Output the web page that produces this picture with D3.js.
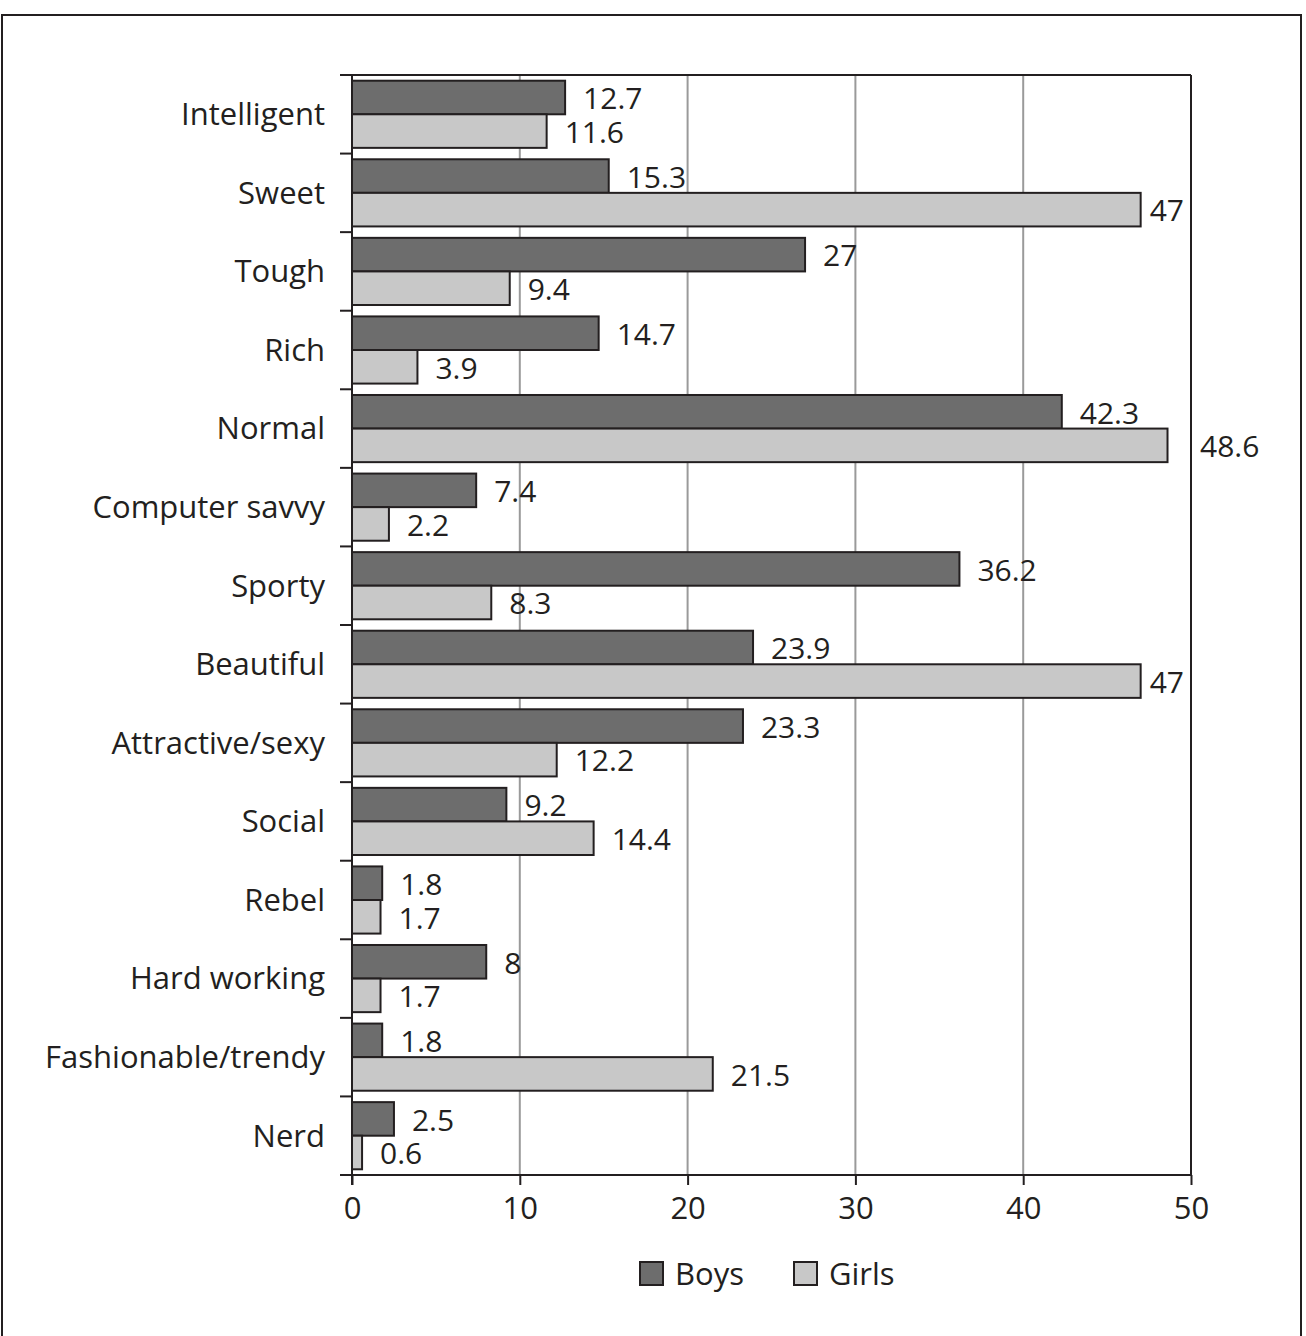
<!DOCTYPE html>
<html>
<head>
<meta charset="utf-8">
<title>Boys and girls bar chart</title>
<script src="https://d3js.org/d3.v7.min.js"></script>
<style>
  body { margin: 0; background: #fff; }
  svg text { font-family: "Open Sans", "Noto Sans", sans-serif; fill: #231f20; }
</style>
</head>
<body>
<svg width="1306" height="1336"></svg>
<script>
// data
const categories = ['Intelligent', 'Sweet', 'Tough', 'Rich', 'Normal', 'Computer savvy', 'Sporty',
    'Beautiful', 'Attractive/sexy', 'Social', 'Rebel', 'Hard working', 'Fashionable/trendy', 'Nerd'];
const boys  = [12.7, 15.3, 27, 14.7, 42.3, 7.4, 36.2, 23.9, 23.3, 9.2, 1.8, 8, 1.8, 2.5];
const girls = [11.6, 47, 9.4, 3.9, 48.6, 2.2, 8.3, 47, 12.2, 14.4, 1.7, 1.7, 21.5, 0.6];
const seriesNames = ['Boys', 'Girls'];
const xTicks = [0, 10, 20, 30, 40, 50];

const colors = { Boys: '#6d6d6d', Girls: '#c8c8c8' };
const ink = '#231f20';

const svg = d3.select('svg');

// outer frame
svg.append('rect')
    .attr('x', 2).attr('y', 15)
    .attr('width', 1299).attr('height', 1340)
    .attr('fill', 'none').attr('stroke', ink).attr('stroke-width', 2);

const plotLeft = 352, plotRight = 1191, plotTop = 75, plotBottom = 1175;

const x = d3.scaleLinear().domain([0, 50]).range([plotLeft, plotRight]);
const y = d3.scaleBand().domain(categories).range([plotTop, plotBottom]).paddingInner(0).paddingOuter(0);
const ySub = d3.scaleBand().domain(seriesNames).range([0, y.bandwidth()]).paddingInner(0).paddingOuter(0.17);

// grid lines
svg.append('g').selectAll('line')
    .data(xTicks.filter(t => t > 0 && t < 50))
    .enter().append('line')
    .attr('x1', d => x(d)).attr('x2', d => x(d))
    .attr('y1', plotTop).attr('y2', plotBottom)
    .attr('stroke', '#9a9a9a').attr('stroke-width', 2);

// x axis
const xAxis = d3.axisBottom(x).tickValues(xTicks).tickSize(10).tickPadding(12).tickSizeOuter(0);
const xAxisG = svg.append('g')
    .attr('transform', `translate(0,${plotBottom})`)
    .call(xAxis);
xAxisG.select('.domain').remove();
xAxisG.selectAll('line').attr('stroke', ink).attr('stroke-width', 2);
xAxisG.selectAll('text').style('font-size', '31px').attr('fill', ink);

// frame lines of the plot
svg.append('line').attr('x1', 340).attr('x2', plotRight).attr('y1', plotBottom).attr('y2', plotBottom)
    .attr('stroke', ink).attr('stroke-width', 2);
svg.append('line').attr('x1', 340).attr('x2', plotRight).attr('y1', plotTop).attr('y2', plotTop)
    .attr('stroke', ink).attr('stroke-width', 2);
svg.append('line').attr('x1', plotRight).attr('x2', plotRight).attr('y1', plotTop).attr('y2', plotBottom)
    .attr('stroke', ink).attr('stroke-width', 2);
svg.append('line').attr('x1', plotLeft).attr('x2', plotLeft).attr('y1', plotTop).attr('y2', plotBottom + 10)
    .attr('stroke', ink).attr('stroke-width', 2);

// category ticks between bands
svg.append('g').selectAll('line')
    .data(categories.slice(1))
    .enter().append('line')
    .attr('x1', 340).attr('x2', plotLeft)
    .attr('y1', d => y(d)).attr('y2', d => y(d))
    .attr('stroke', ink).attr('stroke-width', 2);

// category labels
svg.append('g').selectAll('text')
    .data(categories)
    .enter().append('text')
    .attr('x', 325)
    .attr('y', d => y(d) + y.bandwidth() / 2)
    .attr('dy', '0.35em')
    .attr('text-anchor', 'end')
    .style('font-size', '31px')
    .text(d => d);

// bars
const rows = [];
categories.forEach((c, i) => {
    rows.push({ cat: c, series: 'Boys', value: boys[i] });
    rows.push({ cat: c, series: 'Girls', value: girls[i] });
});

svg.append('g').selectAll('rect')
    .data(rows)
    .enter().append('rect')
    .attr('x', x(0))
    .attr('y', d => y(d.cat) + ySub(d.series))
    .attr('width', d => x(d.value) - x(0))
    .attr('height', ySub.bandwidth())
    .attr('fill', d => colors[d.series])
    .attr('stroke', ink)
    .attr('stroke-width', 2);

// value labels
svg.append('g').selectAll('text')
    .data(rows)
    .enter().append('text')
    .attr('x', d => x(d.value) + 18)
    .attr('y', d => y(d.cat) + ySub(d.series) + ySub.bandwidth() / 2 + 1)
    .attr('dy', '0.36em')
    .style('font-size', '30px')
    .text(d => d.value)
    .each(function(d) {
        // squeeze the label in before the right frame, or push it past the frame
        const w = this.getComputedTextLength();
        const end = x(d.value);
        if (end + 18 + w > plotRight - 4) {
            if (end + 9 + w <= plotRight - 4) d3.select(this).attr('x', end + 9);
            else d3.select(this).attr('x', plotRight + 9);
        }
    });

// legend
const legend = svg.append('g');
const legendX = [640, 794];
seriesNames.forEach((s, i) => {
    legend.append('rect')
        .attr('x', legendX[i]).attr('y', 1262)
        .attr('width', 23).attr('height', 23)
        .attr('fill', colors[s]).attr('stroke', ink).attr('stroke-width', 2);
    legend.append('text')
        .attr('x', legendX[i] + 35).attr('y', 1274)
        .attr('dy', '0.36em')
        .style('font-size', '31px')
        .text(s);
});
</script>
</body>
</html>
